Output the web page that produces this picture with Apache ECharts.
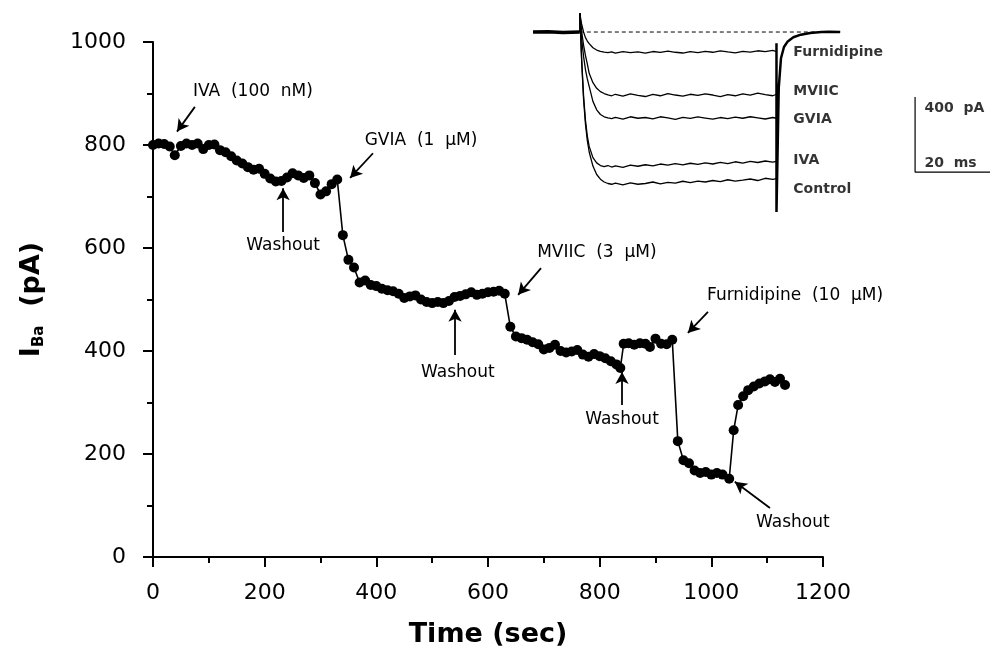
<!DOCTYPE html>
<html>
<head>
<meta charset="utf-8">
<script src="https://cdn.jsdelivr.net/npm/echarts@6/dist/echarts.min.js"></script>
<style>html,body{margin:0;padding:0;background:#fff}#c{width:990px;height:654px}</style>
</head>
<body>
<div id="c"></div>
<script>
// ---- main time course ----
const timeSec = [0,10,20,30,39,50,60,70,80,90,100,110,120,130,140,150,160,170,180,190,200,210,220,230,240,250,260,270,280,290,300,310,320,330,
340,350,360,370,380,390,400,410,420,430,440,450,460,470,480,490,500,510,520,530,540,550,560,570,580,590,600,610,620,630,
640,650,660,670,680,690,700,710,720,730,740,750,760,770,780,790,800,810,820,830,837,
843,852,862,872,882,890,900,910,920,930,
940,950,960,970,980,990,1000,1010,1020,1032,
1040,1048,1057,1066,1076,1086,1096,1105,1114,1123,1132];
const currentPA = [800,803,802,797,780,798,803,800,803,792,800,801,790,786,778,770,764,757,752,754,744,735,729,730,737,745,741,736,741,726,704,710,724,733,
625,577,562,533,537,528,526,521,518,516,511,503,506,508,500,495,493,495,493,497,505,507,510,514,509,511,514,515,517,511,
447,428,425,422,417,413,403,406,412,400,397,399,402,393,389,394,390,386,380,374,367,
414,415,412,415,414,408,424,414,413,422,
225,188,182,168,163,165,160,163,160,152,
246,295,312,324,331,337,341,345,340,346,334];

const xTicks = [0,200,400,600,800,1000,1200];
const yTicks = [0,200,400,600,800,1000];

// annotations: text and positions in data units
const annotTexts = ['IVA  (100  nM)','GVIA  (1  µM)','Washout','MVIIC  (3  µM)','Washout','Washout','Furnidipine  (10  µM)','Washout'];
const annotAt = [[179,903],[480,808],[233,604],[795,592],[546,359],[840,266],[1150,507],[1146,66]];
// arrows: [tailT, tailI, headT, headI]
const arrows = [[75,874,43,826],[394,784,353,736],[233,631,233,716],[695,561,654,509],[541,392,541,480],[840,295,840,359],[994,476,958,435],[1105,95,1042,146]];

// ---- inset current traces (ms, pA) ----
const insetTime = [12.5,13,13.5,14,14.5,15,16,17,18,19,20,21,22,24,26,28,30,32,34,36,38,40,42,44,46,48,50,52,54,56,58,60,62,64,65];
const traceControl = [100,-160,-360,-490,-580,-640,-715,-760,-785,-800,-808,-812,-806,-815,-805,-812,-808,-800,-810,-802,-806,-796,-803,-795,-800,-792,-798,-788,-795,-790,-784,-792,-780,-786,-782];
const traceIVA = [100,-150,-340,-470,-555,-610,-670,-698,-712,-718,-712,-720,-714,-722,-710,-716,-708,-714,-704,-710,-702,-709,-700,-706,-698,-704,-695,-702,-692,-699,-690,-696,-688,-694,-690];
const traceGVIA = [100,-40,-130,-200,-250,-290,-370,-415,-440,-452,-458,-462,-455,-465,-452,-460,-456,-463,-452,-458,-466,-455,-461,-453,-459,-465,-456,-462,-454,-460,-452,-458,-464,-456,-460];
const traceMVIIC = [100,0,-70,-125,-170,-220,-270,-300,-318,-328,-335,-340,-332,-342,-330,-338,-344,-333,-340,-328,-336,-342,-332,-338,-330,-336,-344,-334,-340,-330,-337,-326,-334,-340,-332];
const traceFurn = [100,40,0,-30,-48,-62,-84,-96,-103,-107,-110,-106,-112,-104,-110,-106,-113,-104,-109,-102,-108,-112,-105,-110,-103,-108,-100,-106,-111,-103,-107,-100,-105,-98,-104];
const tailTime = [65,65,65.6,66.2,67,68,69.5,71.5,74,77,79,82];
const tailPA = [-60,-960,-300,-140,-80,-50,-28,-14,-5,0,2,0];
const preTime = [0,4,8,12.5];
const prePA = [0,2,-2,0];
const traceNames = ['Furnidipine','MVIIC','GVIA','IVA','Control'];
const traceLabelAt = [[69.5,-107],[69.5,-315],[69.5,-464],[69.5,-683],[69.5,-837]];
const scaleBar = [[102,-347],[102,-747],[122,-747]];
const scaleTexts = ['400  pA','20  ms'];
const scaleTextAt = [[104.5,-405],[104.5,-699]];

const FONT = 'DejaVu Sans';
const zip = (a,b) => a.map((v,i)=>[v,b[i]]);

const chart = echarts.init(document.getElementById('c'), null, {renderer:'canvas'});

const traceSeries = [traceFurn, traceMVIIC, traceGVIA, traceIVA, traceControl].map(tr => ({
  type:'line', xAxisIndex:1, yAxisIndex:1, data: zip(insetTime, tr), symbol:'none',
  lineStyle:{color:'#000', width:1.3}, silent:true, animation:false
}));

const option = {
  backgroundColor:'#fff',
  animation:false,
  grid:[
    {left:153, top:42, width:670, height:515, containLabel:false},
    {left:533, top:3.9, width:457.5, height:215.6, containLabel:false}
  ],
  xAxis:[
    {type:'value', gridIndex:0, min:0, max:1200, interval:200,
     name:'Time (sec)', nameLocation:'middle', nameGap:64,
     nameTextStyle:{fontFamily:FONT, fontSize:27, fontWeight:'bold', color:'#000'},
     axisLine:{show:true, onZero:false, lineStyle:{color:'#000', width:2}},
     axisTick:{show:true, inside:false, length:10, lineStyle:{color:'#000', width:2}},
     minorTick:{show:true, splitNumber:2, length:6, lineStyle:{color:'#000', width:2}},
     axisLabel:{margin:25, fontFamily:FONT, fontSize:22, color:'#000', customValues: xTicks, formatter: v => String(v)},
     splitLine:{show:false}},
    {type:'value', gridIndex:1, min:0, max:122, show:false}
  ],
  yAxis:[
    {type:'value', gridIndex:0, min:0, max:1000, interval:200,
     name:'{b|I}{s|Ba}{b|  (pA)}', nameLocation:'middle', nameGap:106,
     nameTextStyle:{color:'#000', rich:{
       b:{fontFamily:FONT, fontSize:27, fontWeight:'bold', color:'#000', lineHeight:30},
       s:{fontFamily:FONT, fontSize:15, fontWeight:'bold', color:'#000', verticalAlign:'bottom', lineHeight:30}
     }},
     axisLine:{show:true, onZero:false, lineStyle:{color:'#000', width:2}},
     axisTick:{show:true, inside:false, length:10, lineStyle:{color:'#000', width:2}},
     minorTick:{show:true, splitNumber:2, length:6, lineStyle:{color:'#000', width:2}},
     axisLabel:{margin:27, fontFamily:FONT, fontSize:22, color:'#000', customValues: yTicks, formatter: v => String(v)},
     splitLine:{show:false}},
    {type:'value', gridIndex:1, min:-1000, max:150, show:false}
  ],
  series:[
    {type:'line', name:'IBa', data: zip(timeSec, currentPA), symbol:'circle', symbolSize:10,
     itemStyle:{color:'#000'}, lineStyle:{color:'#000', width:1.6}, silent:true,
     markLine:{silent:true, symbol:['none','arrow'], symbolSize:[10,12], label:{show:false},
       lineStyle:{color:'#000', width:1.8, type:'solid'},
       data: arrows.map(a => [{coord:[a[0],a[1]]},{coord:[a[2],a[3]]}])}
    },
    {type:'scatter', data: annotAt.map((p,i)=>({value:p, name:annotTexts[i]})), symbolSize:0,
     label:{show:true, position:'inside', formatter: p => p.name, fontFamily:FONT, fontSize:17, color:'#000', opacity:1, textBorderWidth:0}, silent:true},
    // inset
    {type:'line', xAxisIndex:1, yAxisIndex:1, data: zip(preTime, prePA), symbol:'none', lineStyle:{color:'#000', width:3.5}, silent:true},
    {type:'line', xAxisIndex:1, yAxisIndex:1, data: [[12.5,0],[82,0]], symbol:'none', lineStyle:{color:'#000', width:1, type:[4,3]}, silent:true},
    ...traceSeries,
    {type:'line', xAxisIndex:1, yAxisIndex:1, data: [[12.5,0],[12.5,100]], symbol:'none', lineStyle:{color:'#000', width:1.5}, silent:true},
    {type:'line', xAxisIndex:1, yAxisIndex:1, data: zip(tailTime, tailPA), symbol:'none', lineStyle:{color:'#000', width:2.5}, silent:true},
    {type:'line', xAxisIndex:1, yAxisIndex:1, data: scaleBar, symbol:'none', lineStyle:{color:'#000', width:1.2}, silent:true},
    {type:'scatter', xAxisIndex:1, yAxisIndex:1, data: traceLabelAt.map((p,i)=>({value:p, name:traceNames[i]})), symbolSize:0,
     label:{show:true, position:'right', distance:0, formatter: p => p.name, fontFamily:FONT, fontSize:14, fontWeight:'bold', color:'#000'}, silent:true},
    {type:'scatter', xAxisIndex:1, yAxisIndex:1, data: scaleTextAt.map((p,i)=>({value:p, name:scaleTexts[i]})), symbolSize:0,
     label:{show:true, position:'right', distance:0, formatter: p => p.name, fontFamily:FONT, fontSize:14, fontWeight:'bold', color:'#000'}, silent:true}
  ]
};
chart.setOption(option);
</script>
</body>
</html>
